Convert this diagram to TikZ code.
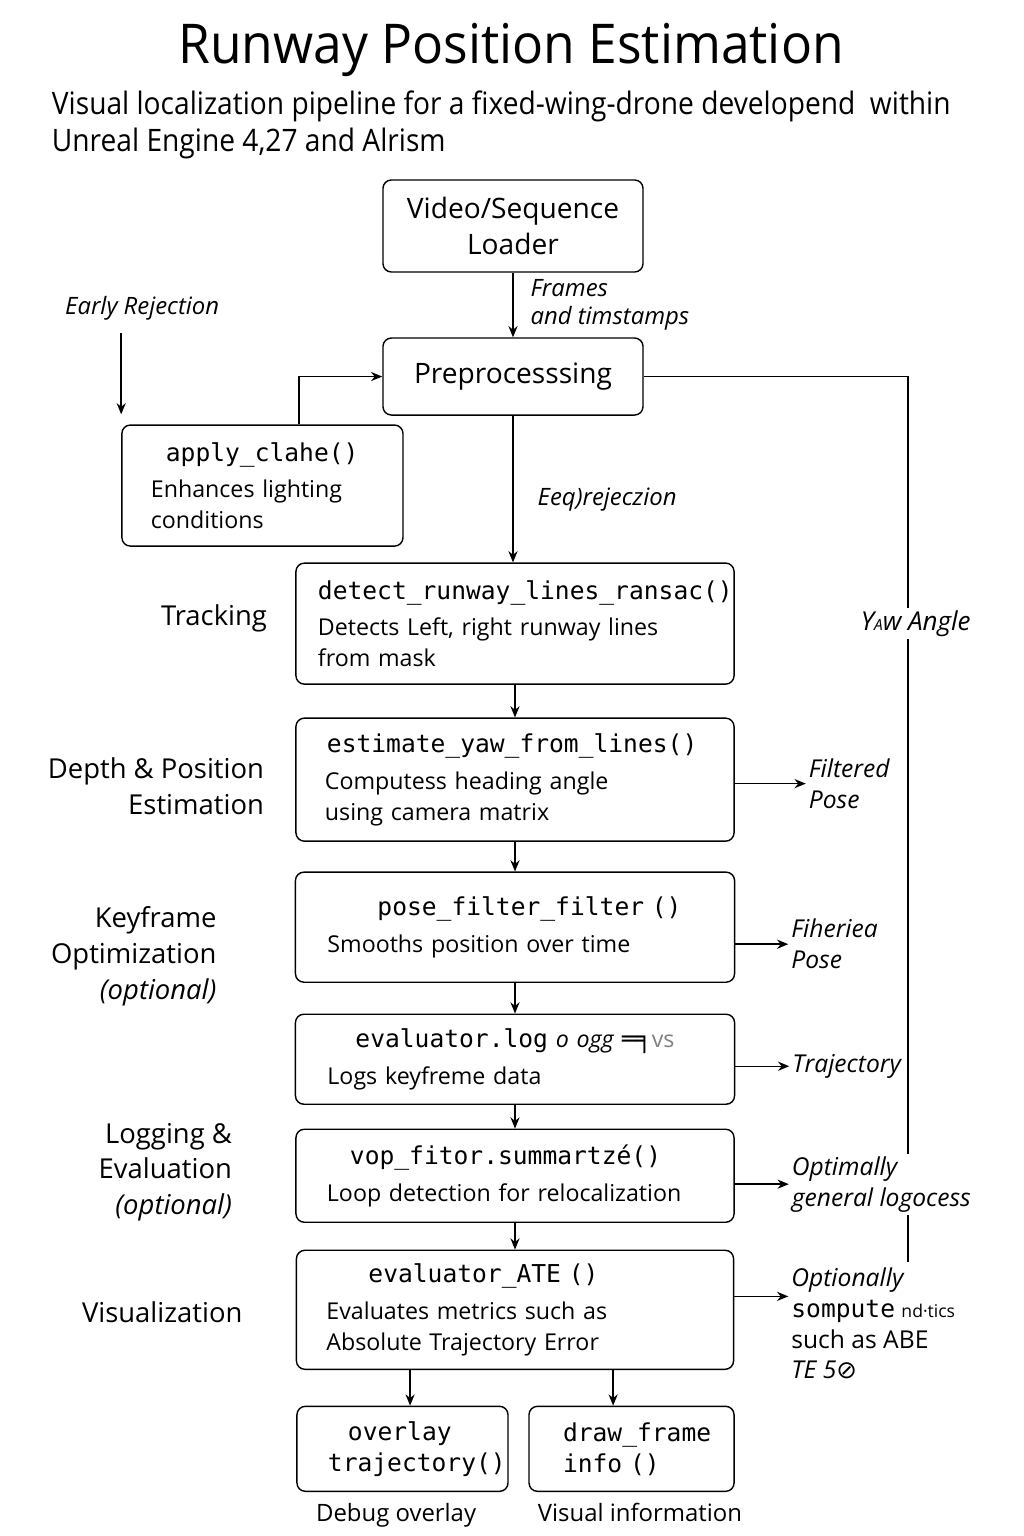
\documentclass[tikz,border=0pt]{standalone}
\usepackage{fontspec}
\usepackage{xcolor}
\setmainfont{Open Sans}
\setmonofont{DejaVu Sans Mono}
\newfontfamily\titlefont[FakeStretch=0.94]{Open Sans}
\newfontfamily\condfont[FakeStretch=0.91]{Open Sans}
\newfontfamily\dejavu{DejaVu Sans}
\usepackage{tikz}
\usetikzlibrary{shapes.geometric, arrows, arrows.meta, positioning}
\newcommand{\fn}[1]{{\upshape\ttfamily\fontsize{17.5}{21}\selectfont #1}}
\tikzstyle{block} = [rectangle, rounded corners=6pt, draw=black, line width=1pt, align=center, font=\fontsize{20}{25}\selectfont]
\tikzstyle{func} = [rectangle, rounded corners=6pt, draw=black, line width=1pt, align=left, font=\fontsize{16.5}{22}\selectfont]
\tikzstyle{stage} = [align=right, inner sep=0pt, font=\fontsize{19.5}{25.5}\selectfont]
\tikzstyle{flowlbl} = [align=left, inner sep=2pt, font=\itshape\fontsize{17}{19.5}\selectfont]
\tikzstyle{outlbl} = [align=left, inner sep=2pt, fill=white, font=\itshape\fontsize{17.5}{22}\selectfont]
\tikzstyle{caption} = [font=\fontsize{17}{20}\selectfont]
\tikzstyle{arrow} = [line width=1pt,->,>={Stealth[length=8pt,width=6.5pt]}]
\tikzstyle{wire} = [line width=1pt]

\begin{document}
\begin{tikzpicture}[x=0.025cm, y=-0.025cm]
    \useasboundingbox (0,0) rectangle (1024,1536);

    % Heading
    \node (title) [font=\titlefont\fontsize{39}{45}\selectfont] at (511,50) {Runway Position Estimation};
    \node (subtitle) [anchor=west, align=left, font=\condfont\fontsize{22}{26.3}\selectfont] at (47,124.5) {Visual localization pipeline for a fixed-wing-drone developend~ within\\Unreal Engine 4,27 and Alrism};

    % Input Layer
    \node (loader) [block, minimum width=6.5cm, minimum height=2.3cm] at (513,226) {Video/Sequence\\Loader};
    \node (preproc) [block, minimum width=6.5cm, minimum height=1.925cm, below of=loader, node distance=3.7625cm] {Preprocesssing};
    \node (clahe) [func, text width=5.575cm, inner xsep=0.725cm, minimum height=3.025cm, below of=preproc, node distance=2.725cm, xshift=-6.2625cm] {\hspace*{0.375cm}\fn{apply\_clahe()}\\[4pt]Enhances lighting\\conditions};
    \node (early) [flowlbl] at ([xshift=0.525cm, yshift=2.9cm]clahe.north west) {Early Rejection};

    % Pipeline Layer
    \node (detect) [func, text width=9.85cm, inner xsep=0.55cm, minimum height=3.025cm, below of=preproc, node distance=6.175cm, xshift=0.05cm] {\fn{detect\_runway\_lines\_ransac()}\\[4pt]Detects Left, right runway lines\\from mask};
    \node (estimate) [func, text width=9.5cm, inner xsep=0.725cm, minimum height=3.075cm, below of=detect, node distance=3.9cm] {\hspace*{0.05cm}\fn{estimate\_yaw\_from\_lines()}\\[4pt]Computess heading angle\\using camera matrix};
    \node (posef) [func, text width=9.375cm, inner xsep=0.8cm, minimum height=2.75cm, below of=estimate, node distance=3.6875cm] {\hspace*{1.25cm}\fn{pose\_filter\_filter ()}\\[4pt]Smooths position over time\\[8pt]};
    \node (evallog) [func, text width=9.375cm, inner xsep=0.8cm, minimum height=2.25cm, below of=posef, node distance=3.3cm] {\hspace*{0.7cm}\fn{evaluator.log} \textit{o ogg} \fn{═╕}\textcolor{gray}{vs}\\[4pt]Logs keyfreme data};
    \node (vop) [func, text width=9.4cm, inner xsep=0.775cm, minimum height=2.325cm, below of=evallog, node distance=2.9125cm] {\hspace*{0.575cm}\fn{vop\_fitor.summartzé()}\\[4pt]Loop detection for relocalization};
    \node (ate) [func, text width=9.425cm, inner xsep=0.75cm, minimum height=2.975cm, below of=vop, node distance=3.35cm] {\hspace*{1.05cm}\fn{evaluator\_ATE ()}\\[4pt]Evaluates metrics such as\\Absolute Trajectory Error};

    % Output Layer
    \node (overlay) [func, text width=3.725cm, inner xsep=0.775cm, minimum height=2.125cm, below of=ate, node distance=3.475cm, xshift=-2.8125cm] {\hspace*{0.5cm}\fn{overlay}\\\fn{trajectory()}};
    \node (drawf) [func, text width=3.425cm, inner xsep=0.85cm, minimum height=2.125cm, below of=ate, node distance=3.475cm, xshift=2.9125cm] {\fn{draw\_frame}\\\fn{info ()}};
    \node (dbgcap) [caption, below=0.15cm of overlay, xshift=-0.16cm] {Debug overlay};
    \node (viscap) [caption, below=0.15cm of drawf, xshift=0.21cm] {Visual information};

    % Stage labels
    \node (stgtrack) [stage, left=0.7cm of detect, yshift=0.14cm] {Tracking};
    \node (stgdepth) [stage, left=0.775cm of estimate, yshift=-0.16cm] {Depth \& Position\\Estimation};
    \node (stgkey) [stage, left=1.95cm of posef, yshift=-0.725cm] {Keyframe\\Optimization\\\textit{(optional)}};
    \node (stglog) [stage, left=1.575cm of vop, yshift=0.09cm] {Logging \&\\Evaluation\\\textit{(optional)}};
    \node (stgvis) [stage, left=1.325cm of ate, yshift=-0.06cm] {Visualization};

    % Yaw line
    \coordinate (yawcorner) at ([xshift=6.6cm]preproc.east);
    \draw [wire] (preproc.east) -- (yawcorner) -- (yawcorner |- ate.north) -- ++(0,12);
    \node (yawlbl) [flowlbl, fill=white, font=\itshape\fontsize{18.5}{20}\selectfont, xshift=0.2cm] at (yawcorner |- detect) {Y{\fontsize{11}{12}\selectfont A}w Angle};

    % Side outputs
    \node (estout) [outlbl, right=1.775cm of estimate, yshift=-0.1cm] {Filtered\\Pose};
    \node (pfout) [outlbl, right=1.325cm of posef, yshift=-0.425cm] {Fiheriea\\Pose};
    \node (logout) [outlbl, right=1.35cm of evallog, yshift=-0.175cm] {Trajectory};
    \node (vopout) [outlbl, right=1.35cm of vop, yshift=-0.21cm] {Optimally\\general logocess};
    \node (ateout) [outlbl, right=1.35cm of ate, yshift=-0.34cm] {Optionally\\\fn{sompute} {\upshape\fontsize{12.5}{14}\selectfont nd·tics}\\{\upshape such as ABE}\\TE 5{\dejavu\upshape ⊘}};
    \coordinate [yshift=0.675cm] (ateline) at (ateout.west);

    % Connections
    \draw [arrow] (loader.south) -- node[flowlbl, anchor=west, xshift=0.35cm] {Frames\\and timstamps} (preproc.north);
    \coordinate [yshift=-0.25cm] (earlyfoot) at (early.south -| clahe.west);
    \draw [arrow] (earlyfoot) -- ([yshift=0.25cm]clahe.north west);
    \draw [arrow] ([xshift=0.9125cm]clahe.north) |- (preproc.west);
    \draw [arrow] (preproc.south) -- node[flowlbl, pos=0.574, anchor=west, xshift=0.53cm] {Eeq)rejeczion} (preproc.south |- detect.north);
    \draw [arrow] (detect.south) -- (estimate.north);
    \draw [arrow] (estimate.south) -- (posef.north);
    \draw [arrow] (posef.south) -- (evallog.north);
    \draw [arrow] (evallog.south) -- (vop.north);
    \draw [arrow] (vop.south) -- (ate.north);

    \draw [arrow] (estimate.east |- estout.west) -- (estout.west);
    \draw [arrow] (posef.east |- pfout.west) -- (pfout.west);
    \draw [arrow] (evallog.east |- logout.west) -- (logout.west);
    \draw [arrow] (vop.east |- vopout.west) -- (vopout.west);
    \draw [arrow] (ate.east |- ateline) -- (ateline);

    \coordinate [xshift=0.19cm] (ovin) at (overlay.north);
    \coordinate [xshift=-0.46cm] (drawin) at (drawf.north);
    \draw [arrow] (ate.south -| ovin) -- (ovin);
    \draw [arrow] (ate.south -| drawin) -- (drawin);
\end{tikzpicture}
\end{document}
